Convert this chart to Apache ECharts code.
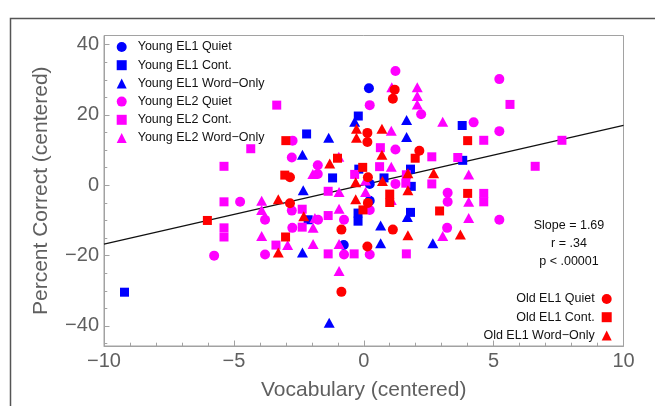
<!DOCTYPE html>
<html>
<head>
<meta charset="utf-8">
<script src="https://cdn.jsdelivr.net/npm/echarts@6/dist/echarts.min.js"></script>
<style>
html,body{margin:0;padding:0;background:#fff;}
#c{width:655px;height:406px;}
</style>
</head>
<body>
<div id="c"></div>
<script>
// ---- data (x = Vocabulary centered, y = Percent Correct centered) ----
const yEL1Quiet = [[0.20,27.6],[0.23,0.4],[0.23,-4.4],[-0.77,-17.0]];
const yEL1Cont = [[-0.21,19.7],[-2.20,14.6],[-1.20,2.1],[-0.19,4.6],[0.78,2.1],[1.80,4.6],[1.83,-0.3],
  [-2.14,-9.8],[-0.22,-7.9],[-0.22,-10.2],[1.80,-7.7],[3.79,17.0],[3.81,7.1],[-9.21,-30.4]];
const yEL1Word = [[-0.35,18.1],[1.65,18.6],[1.65,13.7],[-1.35,13.5],[-2.36,8.7],[0.65,-11.4],[1.68,-9.0],
  [-2.33,-1.4],[-2.36,-19.1],[0.65,-16.5],[2.66,-16.5],[-1.33,-39.1]];
const yEL2Quiet = [[1.22,32.5],[0.23,22.8],[2.21,20.2],[-2.74,12.7],[-2.77,7.9],[1.22,10.2],[-1.77,5.7],
  [-1.77,3.2],[1.22,0.4],[-3.80,-9.8],[-2.77,-7.2],[-1.76,-9.8],[-0.76,-9.8],[0.23,-7.0],[-2.75,-12.1],
  [-3.80,-19.7],[-0.76,-19.7],[0.23,-19.7],[-4.76,-4.7],[-5.76,-20.0],[4.23,17.9],[5.22,15.4],[3.23,-2.1],
  [3.23,-4.7],[5.22,-9.8],[3.21,-12.1],[5.22,30.2]];
const yEL2Cont = [[-3.35,22.8],[-4.35,10.4],[-5.38,5.4],[-5.38,-4.7],[-5.38,-12.1],[-5.38,-14.7],[0.64,10.7],
  [2.62,8.1],[-0.35,3.1],[0.61,5.3],[1.64,3.0],[1.62,0.6],[2.62,0.4],[-1.37,-1.7],[-2.37,-6.8],[-1.37,-8.6],
  [-2.37,-11.9],[-3.38,-17.0],[-1.37,-19.5],[-0.37,-19.5],[1.64,-19.5],[5.63,23.0],[4.62,12.8],[7.63,12.8],
  [3.62,7.9],[6.60,5.4],[4.62,-2.3],[4.62,-4.7]];
const yEL2Word = [[1.08,27.9],[2.06,27.9],[2.06,25.4],[2.06,23.0],[1.06,15.5],[-0.96,8.1],[1.06,5.3],
  [-1.96,3.2],[0.07,1.4],[0.07,-1.9],[1.06,-4.2],[-0.95,-1.9],[-3.93,-4.4],[-3.93,-7.0],[-3.93,-14.4],
  [-1.88,-9.3],[-0.95,-6.7],[-1.95,-12.1],[-2.93,-17.0],[-1.95,-16.7],[-0.95,-16.7],[-0.95,-24.4],
  [3.04,18.1],[4.04,3.1],[4.04,-4.7],[4.04,-9.3],[3.04,-14.4]];
const oEL1Quiet = [[1.19,27.2],[1.12,24.6],[0.14,14.9],[0.14,12.3],[2.14,9.8],[-2.84,2.3],[0.16,2.3],
  [-2.84,-5.1],[0.16,-5.0],[-0.86,-12.6],[1.12,-12.6],[0.14,-17.4],[-0.86,-30.3]];
const oEL1Cont = [[-3.00,12.7],[-1.01,7.7],[1.98,7.7],[-3.04,2.9],[-0.04,5.1],[1.00,-2.5],[1.00,-4.9],
  [-0.03,-7.0],[2.92,-7.3],[-3.01,-14.7],[-6.02,-10.0],[4.00,12.7],[4.00,-2.3]];
const oEL1Word = [[-0.28,16.1],[-0.28,13.5],[0.70,16.1],[0.70,8.7],[-1.31,6.2],[-0.31,0.9],[0.72,1.2],
  [1.70,3.4],[1.70,-1.4],[2.69,3.4],[-0.31,-4.0],[-3.29,-4.0],[-2.31,-8.8],[1.70,-14.2],[-3.29,-19.1],[3.72,-14.0]];

// regression
const slope = 1.69, intercept = 0.15;
const fitX = [-10, 10];
const statLines = ['Slope = 1.69', 'r = .34', 'p < .00001'];

// axes
const xRange = [-10, 10];
const yRange = [-45.7, 42.6];
const xMajor = [-10, -5, 0, 5, 10];
const xMinor = [-9,-8,-7,-6,-4,-3,-2,-1,1,2,3,4,6,7,8,9];
const yMajor = [-40, -20, 0, 20, 40];
const yMinor = [-45,-35,-30,-25,-15,-10,-5,5,10,15,25,30,35];

const youngNames = ['Young EL1 Quiet','Young EL1 Cont.','Young EL1 Word\u2212Only','Young EL2 Quiet','Young EL2 Cont.','Young EL2 Word\u2212Only'];
const oldNames = ['Old EL1 Quiet','Old EL1 Cont.','Old EL1 Word\u2212Only'];

const BLUE = '#0000ff', MAG = '#ff00ff', RED = '#ff0000';
const FONT = 'Liberation Sans, Arial, sans-serif';
const GRAYTXT = '#5f5f5f', FRAME = '#a2a2a2';
const minus = v => String(v).replace('-', '\u2212');

function sc(name, data, color, sym) {
  const size = sym === 'circle' ? 10 : (sym === 'rect' ? 9 : [11, 10]);
  return {
    name, type: 'scatter', data, symbol: sym, symbolSize: size,
    itemStyle: { color, opacity: 1 }, xAxisIndex: 0, yAxisIndex: 0, z: 3,
    emphasis: { disabled: true }, silent: true, animation: false
  };
}

const chart = echarts.init(document.getElementById('c'), null, { renderer: 'canvas' });
const option = {
  animation: false,
  backgroundColor: '#fff',
  textStyle: { fontFamily: FONT },
  grid: { left: 104, right: 31.5, top: 35.5, bottom: 54, show: true, borderColor: FRAME, borderWidth: 1, backgroundColor: 'transparent' },
  xAxis: [
    { type: 'value', min: xRange[0], max: xRange[1], interval: 5, position: 'bottom',
      axisLine: { show: true, onZero: false, lineStyle: { color: FRAME, width: 1 } },
      axisTick: { show: true, inside: true, length: 5.5, lineStyle: { color: FRAME } },
      axisLabel: { show: true, margin: 5, fontSize: 20, color: GRAYTXT, fontFamily: FONT, formatter: minus },
      splitLine: { show: false },
      name: 'Vocabulary (centered)', nameLocation: 'middle', nameGap: 34,
      nameTextStyle: { fontSize: 21, color: GRAYTXT, fontFamily: FONT } },
    { type: 'value', min: xRange[0], max: xRange[1], position: 'bottom', offset: 0,
      axisLine: { show: false, onZero: false }, axisLabel: { show: false }, splitLine: { show: false },
      axisTick: { show: true, inside: true, length: 3.3, customValues: xMinor, lineStyle: { color: FRAME } } }
  ],
  yAxis: [
    { type: 'value', min: yRange[0], max: yRange[1], position: 'left',
      axisLine: { show: true, onZero: false, lineStyle: { color: FRAME, width: 1 } },
      axisTick: { show: true, inside: true, length: 5.5, customValues: yMajor, lineStyle: { color: FRAME } },
      axisLabel: { show: true, margin: 5, fontSize: 20, color: GRAYTXT, fontFamily: FONT, customValues: yMajor, formatter: minus },
      splitLine: { show: false },
      name: 'Percent Correct (centered)', nameLocation: 'middle', nameGap: 52, nameRotate: 90,
      nameTextStyle: { fontSize: 21, color: GRAYTXT, fontFamily: FONT } },
    { type: 'value', min: yRange[0], max: yRange[1], position: 'left', offset: 0,
      axisLine: { show: false, onZero: false }, axisLabel: { show: false }, splitLine: { show: false },
      axisTick: { show: true, inside: true, length: 3.3, customValues: yMinor, lineStyle: { color: FRAME } } }
  ],
  legend: [
    { orient: 'vertical', left: 111.7, top: 35, itemWidth: 10, itemHeight: 10, itemGap: 4.2,
      selectedMode: false, data: [
        { name: youngNames[0], icon: 'circle' }, { name: youngNames[1], icon: 'rect' }, { name: youngNames[2], icon: 'triangle' },
        { name: youngNames[3], icon: 'circle' }, { name: youngNames[4], icon: 'rect' }, { name: youngNames[5], icon: 'triangle' }],
      textStyle: { fontSize: 12.5, color: '#111', fontFamily: FONT, lineHeight: 14, padding: [0, 0, 0, 6] } },
    { orient: 'vertical', right: 38.3, top: 287, align: 'right', itemWidth: 10, itemHeight: 10, itemGap: 4.2,
      selectedMode: false, data: [
        { name: oldNames[0], icon: 'circle' }, { name: oldNames[1], icon: 'rect' }, { name: oldNames[2], icon: 'triangle' }],
      textStyle: { fontSize: 12.5, color: '#111', fontFamily: FONT, lineHeight: 14, padding: [0, 2, 0, 0] } }
  ],
  series: [
    { name: 'fit', type: 'line', data: fitX.map(x => [x, intercept + slope * x]), symbol: 'none',
      lineStyle: { color: '#111', width: 1.3 }, z: 2, silent: true, animation: false },
    sc(youngNames[0], yEL1Quiet, BLUE, 'circle'),
    sc(youngNames[1], yEL1Cont, BLUE, 'rect'),
    sc(youngNames[2], yEL1Word, BLUE, 'triangle'),
    sc(youngNames[3], yEL2Quiet, MAG, 'circle'),
    sc(youngNames[4], yEL2Cont, MAG, 'rect'),
    sc(youngNames[5], yEL2Word, MAG, 'triangle'),
    sc(oldNames[0], oEL1Quiet, RED, 'circle'),
    sc(oldNames[1], oEL1Cont, RED, 'rect'),
    sc(oldNames[2], oEL1Word, RED, 'triangle')
  ],
  graphic: [
    { type: 'rect', left: 8, top: 16, shape: { x: 0, y: 0, width: 700, height: 450 }, silent: true,
      style: { fill: 'none', stroke: '#555', lineWidth: 1.5 } },
    ...statLines.map((t, i) => ({ type: 'text', x: 569, y: 226 + i * 18, silent: true,
      style: { text: t, fontSize: 12.5, fontFamily: FONT, fill: '#111', textAlign: 'center', textVerticalAlign: 'middle' } }))
  ]
};
chart.setOption(option);
</script>
</body>
</html>
